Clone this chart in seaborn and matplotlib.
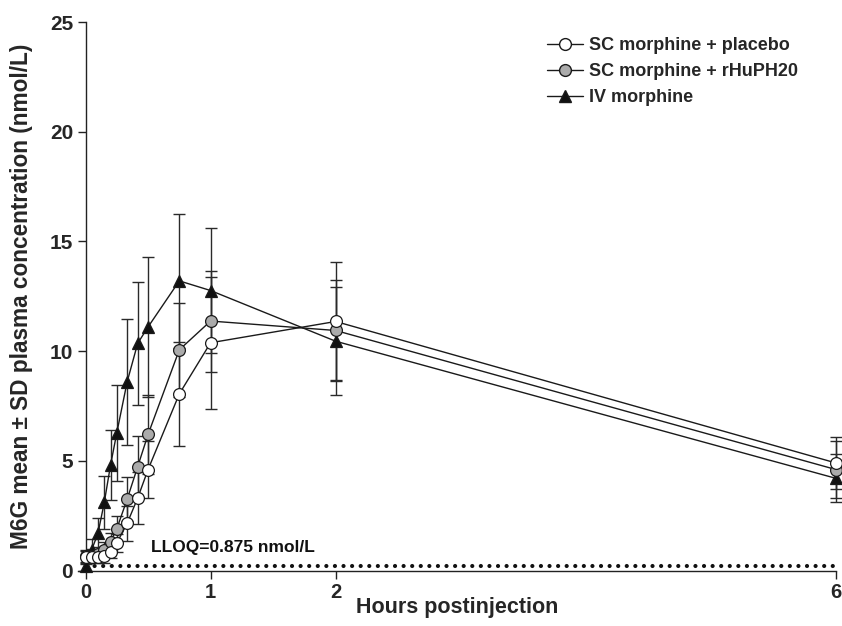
import matplotlib
matplotlib.use("Agg")
import matplotlib.pyplot as plt
import seaborn as sns
import numpy as np
import pandas as pd
from matplotlib.lines import Line2D

# ---- data ----
times = [0, 0.05, 0.1, 0.15, 0.2, 0.25, 0.333, 0.417, 0.5, 0.75, 1, 2, 6]
placebo_mean = [0.6, 0.62, 0.62, 0.65, 0.85, 1.25, 2.15, 3.3, 4.6, 8.05, 10.38, 11.35, 4.9]
placebo_sd = [0.3, 0.3, 0.3, 0.3, 0.3, 0.4, 0.8, 1.2, 1.3, 2.36, 3.0, 2.69, 1.2]
rhuph20_mean = [0.65, 0.68, 0.75, 0.95, 1.3, 1.9, 3.25, 4.73, 6.2, 10.06, 11.37, 10.94, 4.6]
rhuph20_sd = [0.3, 0.3, 0.3, 0.35, 0.4, 0.6, 1.0, 1.4, 1.8, 2.13, 2.3, 2.31, 1.3]
iv_mean = [0.2, 0.95, 1.7, 3.1, 4.8, 6.27, 8.6, 10.35, 11.1, 13.2, 12.76, 10.45, 4.2]
iv_sd = [0.2, 0.5, 0.7, 1.2, 1.6, 2.2, 2.87, 2.8, 3.2, 3.06, 2.84, 2.47, 1.1]
series_names = ["SC morphine + placebo", "SC morphine + rHuPH20", "IV morphine"]
lloq_label = "LLOQ=0.875 nmol/L"
lloq_line_y = 0.2
xticks = [0, 1, 2, 6]
yticks = [0, 5, 10, 15, 20, 25]

sns.set_theme(style="ticks")
plt.rcParams['font.family'] = ['Liberation Sans', 'DejaVu Sans']

fig = plt.figure(figsize=(8.42, 6.26), dpi=100)
ax = fig.add_axes([78 / 842, 1 - 570.5 / 626, (836 - 78) / 842, (570.5 - 22) / 626])
ax.spines['left'].set_position(('data', 0))

styles = {
    "IV morphine": dict(mean=iv_mean, sd=iv_sd, marker="^", face="#111111", z=3),
    "SC morphine + rHuPH20": dict(mean=rhuph20_mean, sd=rhuph20_sd, marker="o", face="#ababab", z=4),
    "SC morphine + placebo": dict(mean=placebo_mean, sd=placebo_sd, marker="o", face="white", z=5),
}

for name in ["IV morphine", "SC morphine + rHuPH20", "SC morphine + placebo"]:
    s = styles[name]
    ax.errorbar(times, s["mean"], yerr=s["sd"], fmt="none", ecolor="#2a2a2a",
                elinewidth=1.0, capsize=4.5, capthick=1.0, zorder=2, clip_on=False)
    df = pd.DataFrame({"t": times, "v": s["mean"]})
    sns.lineplot(data=df, x="t", y="v", ax=ax, color="#1a1a1a", linewidth=1.0,
                 marker=s["marker"], markersize=8.5, markerfacecolor=s["face"],
                 markeredgecolor="#1a1a1a", markeredgewidth=0.9, zorder=s["z"],
                 clip_on=False, legend=False)

# LLOQ dotted line
ax.plot([0, 6], [lloq_line_y, lloq_line_y], color="#111111", linewidth=3.0,
        linestyle=(0, (0.01, 2.05)), dash_capstyle="round", zorder=1, clip_on=False)
ax.text(0.52, 0.72, lloq_label, fontsize=12.5, fontweight="bold",
        ha="left", va="bottom", color="#111111")

ax.set_xlim(-0.06, 6)
ax.set_ylim(0, 25)
ax.set_xticks(xticks)
ax.set_yticks(yticks)
ax.set_xticklabels([str(t) for t in xticks], fontsize=14.5, fontweight="bold")
ax.set_yticklabels([str(t) for t in yticks], fontsize=15, fontweight="bold")
for sp in ['top', 'right']:
    ax.spines[sp].set_visible(False)
for sp in ['left', 'bottom']:
    ax.spines[sp].set_linewidth(1.0)
    ax.spines[sp].set_color("#222222")
ax.tick_params(axis='both', direction='out', length=6, width=1.0, color="#222222", pad=3)

ax.set_xlabel("Hours postinjection", fontsize=15.5, fontweight="bold")
ax.xaxis.set_label_coords(0.5, -0.068)
ax.xaxis.label.set_va("center")
ax.set_ylabel("M6G mean \u00b1 SD plasma concentration (nmol/L)", fontsize=16.3, fontweight="bold")
ax.yaxis.set_label_coords((22 - 78) / 758, 0.5)
ax.yaxis.label.set_va("center")

handles = [
    Line2D([], [], color="#1a1a1a", lw=1.0, marker="o", markersize=8.5, markerfacecolor="white", markeredgecolor="#1a1a1a"),
    Line2D([], [], color="#1a1a1a", lw=1.0, marker="o", markersize=8.5, markerfacecolor="#ababab", markeredgecolor="#1a1a1a"),
    Line2D([], [], color="#1a1a1a", lw=1.0, marker="^", markersize=8.5, markerfacecolor="#111111", markeredgecolor="#1a1a1a"),
]
leg = ax.legend(handles, series_names, loc="upper left", bbox_to_anchor=(547 / 842, 1 - 37 / 626),
                bbox_transform=fig.transFigure, frameon=False, handlelength=2.0, handletextpad=0.3,
                labelspacing=0.5, borderaxespad=0, borderpad=0, prop=dict(weight="bold", size=13))

fig.savefig("out.png", dpi=100)
